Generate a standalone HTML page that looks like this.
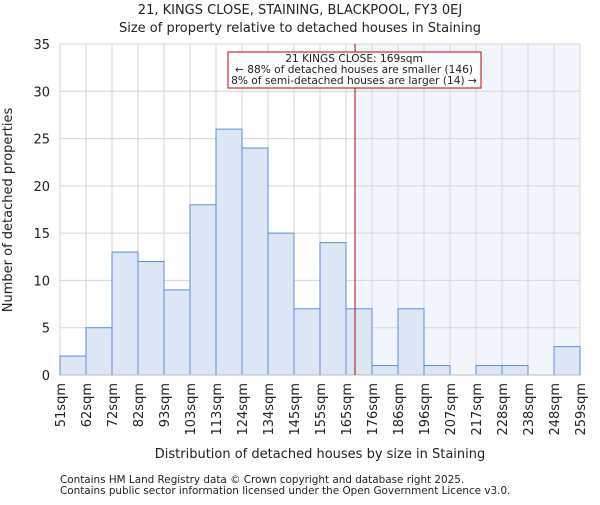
<!DOCTYPE html>
<html><head><meta charset="utf-8"><style>body{margin:0;background:#fff}text{font-family:"DejaVu Sans","Liberation Sans",sans-serif;fill:#222}</style></head>
<body>
<svg id="c" width="600" height="500"></svg>
<script>
const edges=[51,62,72,82,93,103,113,124,134,145,155,165,176,186,196,207,217,228,238,248,259];
const counts=[2,5,13,12,9,18,26,24,15,7,14,7,1,7,1,0,1,1,0,3];
const yTicks=[0,5,10,15,20,25,30,35];
const subject=169;
const L=60,R=580,T=44,B=375,minX=51,maxX=259,maxY=35;
const ns="http://www.w3.org/2000/svg",s=document.getElementById('c');
const xs=i=>L+(R-L)*i/(edges.length-1);
const xv=v=>L+(R-L)*(v-minX)/(maxX-minX);
const y=v=>B-(B-T)*v/maxY;
function mk(t,a,p){const e=document.createElementNS(ns,t);for(const k in a)e.setAttribute(k,a[k]);(p||s).appendChild(e);return e;}
let e;
e=mk('rect',{x:L,y:T,width:R-L,height:B-T,fill:'#fff'});


const sx=xv(subject);
e=mk('rect',{x:sx,y:T,width:R-sx,height:B-T,fill:'#f2f5fc'});


yTicks.forEach(t=>{e=mk('line',{x1:L,x2:R,y1:y(t),y2:y(t),stroke:'#d6d6d6'});


e=mk('text',{x:L-10,y:y(t)+5,'text-anchor':'end','font-size':13});e.textContent=t;

});
edges.forEach((v,i)=>{e=mk('line',{x1:xs(i),x2:xs(i),y1:T,y2:B,stroke:'#d6d6d6'});


e=mk('text',{x:0,y:0,'text-anchor':'end','font-size':13,transform:`translate(${xs(i)+5},383) rotate(-90)`});e.textContent=v+'sqm';

});
counts.forEach((c,i)=>{if(!c)return;e=mk('rect',{x:xs(i),y:y(c),width:xs(i+1)-xs(i),height:B-y(c),fill:'#dde6f4',stroke:'#5b8fd6','stroke-width':1});

});
e=mk('line',{x1:L,x2:R,y1:B,y2:B,stroke:'#bbb'});


e=mk('line',{x1:sx,x2:sx,y1:T,y2:B,stroke:'#a01010','stroke-width':1});


const g=mk('g',{});


mk('rect',{x:228,y:52,width:253,height:36,fill:'#fff',stroke:'#c00000'},g);
[['21 KINGS CLOSE: 169sqm',63],['← 88% of detached houses are smaller (146)',74],['8% of semi-detached houses are larger (14) →',85]].forEach(([t,yy])=>{const q=mk('text',{x:354,y:yy-1,'text-anchor':'middle','font-size':10.6},g);q.textContent=t;});
</script>
<svg width="600" height="500" style="position:absolute;left:0;top:0">
<text x="300" y="14" text-anchor="middle" font-size="13">21, KINGS CLOSE, STAINING, BLACKPOOL, FY3 0EJ</text>
<text x="300" y="32" text-anchor="middle" font-size="13">Size of property relative to detached houses in Staining</text>
<text transform="translate(12,210) rotate(-90)" text-anchor="middle" font-size="13">Number of detached properties</text>
<text x="320" y="458" text-anchor="middle" font-size="13">Distribution of detached houses by size in Staining</text>
<text x="60" y="483" font-size="10.4" fill="#555">Contains HM Land Registry data © Crown copyright and database right 2025.</text>
<text x="60" y="494" font-size="10.4" fill="#555">Contains public sector information licensed under the Open Government Licence v3.0.</text>
</svg>
</body></html>
